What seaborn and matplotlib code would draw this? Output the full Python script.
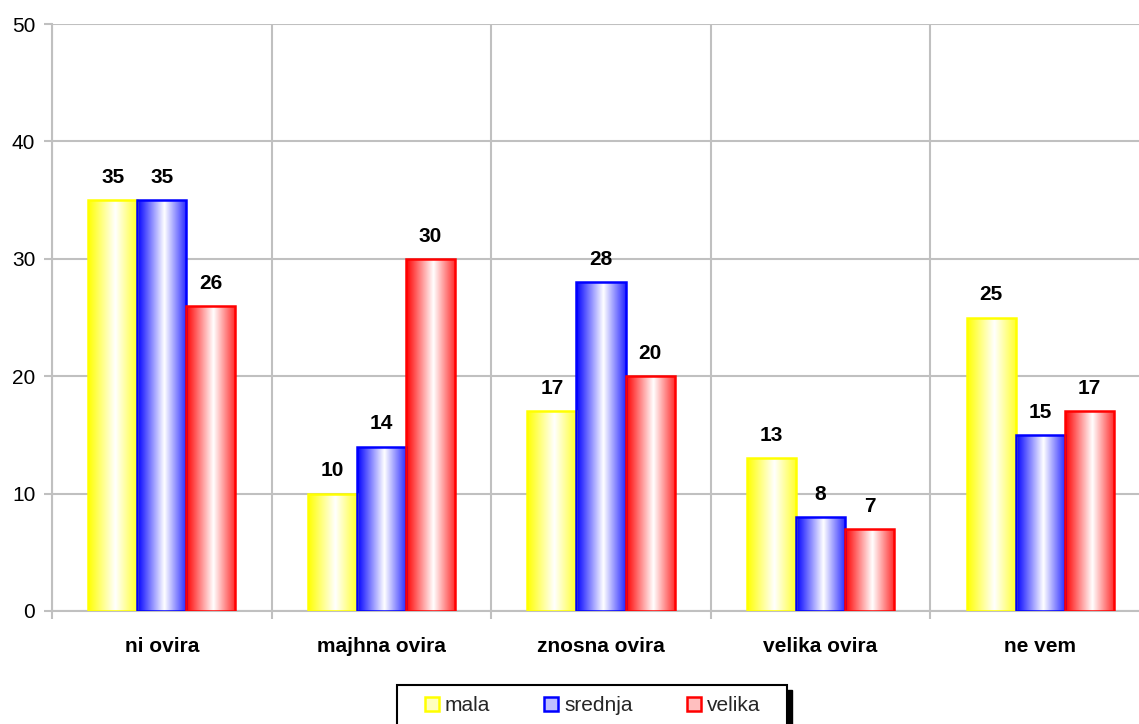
import numpy as np
import pandas as pd
import matplotlib
matplotlib.use("Agg")
import matplotlib.pyplot as plt
import seaborn as sns
from matplotlib.colors import LinearSegmentedColormap, to_rgb
from matplotlib.patches import Rectangle

categories = ["ni ovira", "majhna ovira", "znosna ovira", "velika ovira", "ne vem"]
series = ["mala", "srednja", "velika"]
mala = [35, 10, 17, 13, 25]
srednja = [35, 14, 28, 8, 15]
velika = [26, 30, 20, 7, 17]
colors = ["#ffff00", "#0000ff", "#ff0000"]
yticks = [0, 10, 20, 30, 40, 50]

df = pd.DataFrame({
    "cat": categories * 3,
    "series": [s for s in series for _ in categories],
    "value": mala + srednja + velika,
})

sns.set_theme(style="white")
plt.rcParams["font.family"] = ["Liberation Sans", "DejaVu Sans"]

W, H = 1139, 724
fig = plt.figure(figsize=(W / 100, H / 100), dpi=100)
ax = fig.add_axes([52 / W, 1 - 611 / H, 1098 / W, (611 - 24) / H])

sns.barplot(data=df, x="cat", y="value", hue="series", order=categories,
            hue_order=series, palette=colors, width=0.67, ax=ax,
            legend=False, saturation=1, zorder=3)

grid_c = "#c0c0c0"

def grad_cmap(c):
    r = np.array(to_rgb(c))
    w = np.array([1, 1, 1])
    right = r * 0.85 + w * 0.15
    return LinearSegmentedColormap.from_list(
        "g", [(0, r), (0.55, w), (1, right)])

xs = np.linspace(0, 1, 256)[None, :]
for cont, c in zip(ax.containers, colors):
    cm = grad_cmap(c)
    for bar in cont:
        x0, y0 = bar.get_x(), bar.get_y()
        w, h = bar.get_width(), bar.get_height()
        im = ax.imshow(xs, cmap=cm, extent=[x0, x0 + w, y0, y0 + h],
                       aspect="auto", zorder=3.5, interpolation="bilinear")
        im.set_clip_path(bar)
        bar.set_facecolor("none")
        bar.set_edgecolor(c)
        bar.set_linewidth(1.8)
        bar.set_zorder(4)
        ax.annotate(f"{int(round(h))}", (x0 + w / 2, y0 + h),
                    xytext=(0, 9.5), textcoords="offset points",
                    ha="center", va="bottom", fontsize=15,
                    fontweight="bold", color="black", zorder=5)

ax.set_xlim(-0.5, len(categories) - 0.5)
ax.set_ylim(0, 50)
ax.set_yticks(yticks)
ax.set_yticklabels([str(t) for t in yticks], fontsize=15)
ax.set_xticks(range(len(categories)))
ax.set_xticklabels(categories, fontsize=15, fontweight="bold")
ax.set_xticks(np.arange(-0.5, len(categories), 1), minor=True)
ax.set_xlabel("")
ax.set_ylabel("")

ax.tick_params(axis="x", which="major", length=0, pad=19, colors="black")
ax.tick_params(axis="x", which="minor", length=6, width=1.5, color=grid_c,
               direction="out", bottom=True)
ax.tick_params(axis="y", length=6, width=1.5, color=grid_c, direction="out",
               left=True, pad=6, labelcolor="black")

ax.grid(True, axis="y", color=grid_c, linewidth=1.5, zorder=0)
ax.grid(True, axis="x", which="minor", color=grid_c, linewidth=1.5, zorder=0)
ax.grid(False, axis="x", which="major")
ax.set_axisbelow(True)
for s in ["top", "right"]:
    ax.spines[s].set_visible(False)
for s in ["left", "bottom"]:
    ax.spines[s].set_color(grid_c)
    ax.spines[s].set_linewidth(1.5)

# legend frame with black shadow
fx0, fx1, fy0 = 397 / W, 787 / W, 1 - 685 / H
fig.patches.append(Rectangle((fx0 + 5 / W, -0.05), fx1 - fx0, fy0 - 5 / H + 0.05,
                             transform=fig.transFigure, facecolor="black",
                             edgecolor="black", zorder=1))
fig.patches.append(Rectangle((fx0, -0.05), fx1 - fx0, fy0 + 0.05,
                             transform=fig.transFigure, facecolor="white",
                             edgecolor="black", linewidth=1.5, zorder=2))

handles = []
for c in colors:
    r = np.array(to_rgb(c))
    face = r * 0.25 + np.array([1, 1, 1]) * 0.75
    handles.append(Rectangle((0, 0), 1, 1, facecolor=face, edgecolor=c,
                             linewidth=1.8))
leg = fig.legend(handles, series, loc="upper left",
                 bbox_to_anchor=(425 / W, 1 - 696 / H), ncol=3,
                 frameon=False, fontsize=15,
                 handlelength=0.67, handleheight=0.67, handletextpad=0.28,
                 columnspacing=2.6, borderpad=0, borderaxespad=0)
leg.set_zorder(3)

fig.savefig("out.png", dpi=100)
